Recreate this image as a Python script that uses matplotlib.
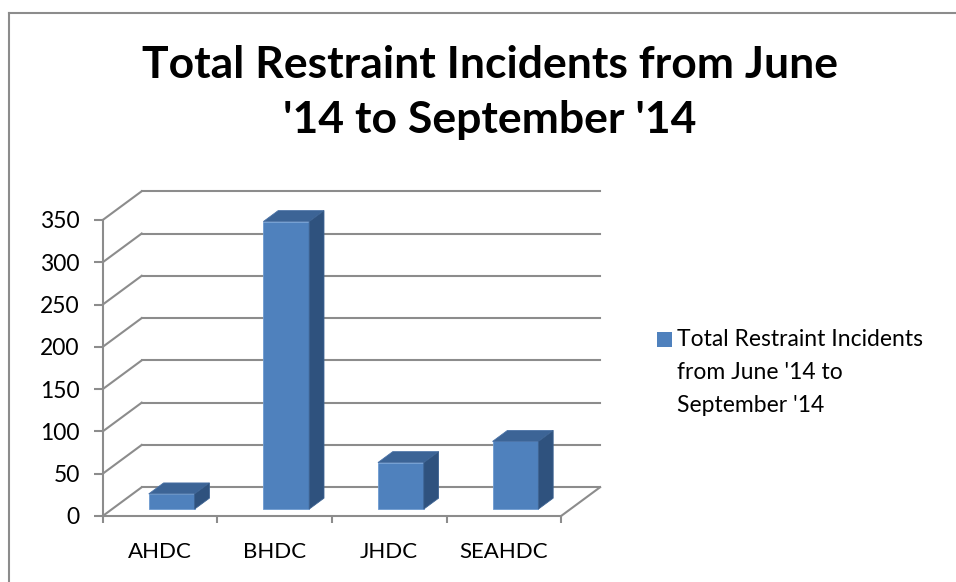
import matplotlib
matplotlib.use("Agg")
import matplotlib.pyplot as plt
from matplotlib.patches import Polygon, Rectangle
from matplotlib.lines import Line2D

plt.rcParams['font.family'] = ['Lato', 'DejaVu Sans']

# data
categories = ["AHDC", "BHDC", "JHDC", "SEAHDC"]
incidents = [18, 340, 55, 80]
y_ticks = [0, 50, 100, 150, 200, 250, 300, 350]
title = "Total Restraint Incidents from June\n'14 to September '14"
series_name = "Total Restraint Incidents\nfrom June '14 to\nSeptember '14"

W, H = 956, 582
GRID = "#8c8c8c"
FRONT = "#4f81bd"
TOP = "#3c6496"
SIDE = "#2f527e"

# fake oblique 3d: depth offset of the back wall in data units
dx, dy = 0.34, 34.0
d0, dd = 0.24, 0.38      # bar depth start / depth length (fraction of wall depth)
bw, b_off = 0.4, 0.32    # bar width / left offset inside category

fig = plt.figure(figsize=(W / 100, H / 100), dpi=100)
ax = fig.add_axes([56.9 / W, 49.1 / H, 561.5 / W, 355.2 / H])
ax.set_xlim(-0.4, 4.5)
ax.set_ylim(-20, 400)

# back wall gridlines, side wall diagonals, floor
for v in y_ticks:
    ax.plot([dx, len(categories) + dx], [v + dy, v + dy], color=GRID, lw=1.5, zorder=1)
    ax.plot([0, dx], [v, v + dy], color=GRID, lw=1.5, zorder=1)
ax.plot([len(categories), len(categories) + dx], [0, dy], color=GRID, lw=1.5, zorder=1)

# bars: front face via ax.bar, top and side faces as polygons
lefts = [i + b_off + d0 * dx for i in range(len(categories))]
bottom = d0 * dy
ax.bar(lefts, incidents, width=bw, bottom=bottom, align='edge', color=FRONT,
       edgecolor="#6d9bd1", linewidth=0.6, zorder=3)
ox, oy = dd * dx, dd * dy
for xl, v in zip(lefts, incidents):
    top = bottom + v
    ax.add_patch(Polygon([(xl, top), (xl + bw, top), (xl + bw + ox, top + oy), (xl + ox, top + oy)],
                         closed=True, facecolor=TOP, edgecolor="#4a72a6", lw=0.6, zorder=3))
    ax.add_patch(Polygon([(xl + bw, bottom), (xl + bw, top), (xl + bw + ox, top + oy), (xl + bw + ox, bottom + oy)],
                         closed=True, facecolor=SIDE, edgecolor="#3d6392", lw=0.6, zorder=3))

# front axes
for s in ['top', 'right']:
    ax.spines[s].set_visible(False)
ax.spines['left'].set_position(('data', 0))
ax.spines['bottom'].set_position(('data', 0))
ax.spines['left'].set_bounds(0, 350)
ax.spines['bottom'].set_bounds(0, len(categories))
for s in ['left', 'bottom']:
    ax.spines[s].set_color(GRID)
    ax.spines[s].set_linewidth(1.5)

ax.set_yticks(y_ticks)
ax.set_yticklabels([str(v) for v in y_ticks])
ax.tick_params(axis='y', direction='out', length=6.5, width=1.5, color=GRID,
               labelsize=16.5, pad=10)
ax.set_xticks(range(len(categories) + 1))
ax.set_xticklabels([])
ax.set_xticks([i + 0.5 for i in range(len(categories))], minor=True)
ax.set_xticklabels(categories, minor=True)
ax.tick_params(axis='x', which='major', direction='out', length=5, width=1.5, color=GRID)
ax.tick_params(axis='x', which='minor', length=0, labelsize=16, pad=19)

# title (baseline given for the last line)
fig.text(489.5 / W, 1 - 133 / H, title, ha='center', va='baseline', fontsize=32,
         fontweight='bold', linespacing=1.45)

# legend drawn by hand so the key sits at the first line
fig.add_artist(Rectangle((656.7 / W, 1 - 346.7 / H), 15 / W, 15 / H,
                         transform=fig.transFigure, facecolor=FRONT, edgecolor='none'))
fig.text(677 / W, 1 - 411.7 / H, series_name, ha='left', va='baseline',
         fontsize=16.5, linespacing=1.69)

# chart border (right and bottom edges fall outside the picture)
fig.add_artist(Line2D([8.5 / W, 8.5 / W], [0, 1 - 12.5 / H], transform=fig.transFigure,
                      color=GRID, lw=1.5))
fig.add_artist(Line2D([8.5 / W, 1], [1 - 12.5 / H, 1 - 12.5 / H], transform=fig.transFigure,
                      color=GRID, lw=1.5))

fig.savefig("out.png", dpi=100)
